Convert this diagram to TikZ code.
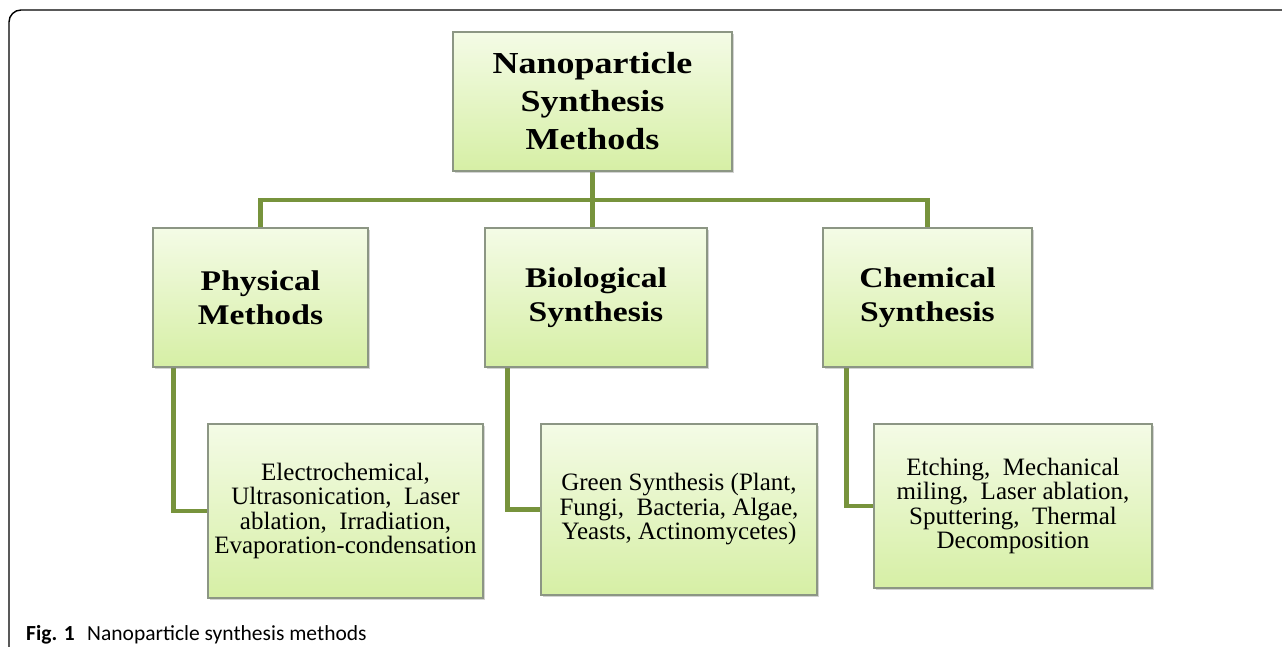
\documentclass[tikz,border=0pt]{standalone}
\usepackage{fontspec}
\setmainfont{Liberation Serif}
\newfontfamily\headfont[FakeStretch=1.18]{Liberation Serif}
\newfontfamily\capfont{Carlito}
\usetikzlibrary{shadows}
\pgfdeclarelayer{background}
\pgfsetlayers{background,main}
\definecolor{olivelink}{RGB}{119,147,60}
\definecolor{boxtop}{RGB}{244,251,230}
\definecolor{boxbot}{RGB}{214,239,165}
\definecolor{boxedge}{RGB}{140,150,132}
\tikzset{
  greenbox/.style={rectangle, draw=boxedge, line width=1.1pt, top color=boxtop, bottom color=boxbot,
    drop shadow={opacity=0.35, shadow xshift=2pt, shadow yshift=-2pt}, align=center, inner sep=0pt},
  headtxt/.style={font=\headfont\bfseries\fontsize{30.5}{38}\selectfont},
  midtxt/.style={font=\headfont\bfseries\fontsize{28.5}{34}\selectfont},
  bodytxt/.style={font=\fontsize{25}{24.5}\selectfont},
  link/.style={draw=olivelink, line width=4.5pt},
  captxt/.style={font=\capfont\fontsize{21.5}{24}\selectfont, anchor=base west, inner sep=0pt},
}
\begin{document}
\begin{tikzpicture}[x=1pt,y=-1pt]
\useasboundingbox (0,0) rectangle (1282,647);
% frame
\draw[line width=1.4pt, rounded corners=12pt] (9,660) -- (9,10) -- (1290,10);
\node[greenbox, headtxt, minimum width=279pt, minimum height=139pt] (top) at (592.5,101.5) {Nanoparticle\\Synthesis\\Methods};
\node[greenbox, midtxt, minimum width=215pt, minimum height=139pt] (phys) at (260.5,297.5) {Physical\\Methods};
\node[greenbox, midtxt, minimum width=222pt, minimum height=139pt] (bio) at (596,297.5) {Biological\\Synthesis};
\node[greenbox, midtxt, minimum width=209pt, minimum height=139pt] (chem) at (927.5,297.5) {Chemical\\Synthesis};
\node[greenbox, bodytxt, minimum width=275pt, minimum height=174pt] (physsub) at (345.5,511) {Electrochemical,\\Ultrasonication,\ \ Laser\\ablation,\ \ Irradiation,\\Evaporation-condensation};
\node[greenbox, bodytxt, minimum width=276pt, minimum height=171pt] (biosub) at (679,509.5) {Green Synthesis\ (Plant,\\Fungi,\ \ Bacteria, Algae,\\Yeasts, Actinomycetes)};
\node[greenbox, bodytxt, minimum width=278pt, minimum height=164pt] (chemsub) at (1013,506) {Etching,\ \ Mechanical\\miling,\ \ Laser ablation,\\Sputtering,\ \ Thermal\\Decomposition};
\coordinate (bar) at (592.5,200);
\begin{pgfonlayer}{background}
\path[link] (top.south) -- (bar);
\path[link] (bar) -| (phys.north);
\path[link] (bar) -| (chem.north);
\path[link] (bar) -- (bio.north -| bar);
\path[link] ([xshift=21pt]phys.south west) |- (physsub.west);
\path[link] ([xshift=23pt]bio.south west) |- (biosub.west);
\path[link] ([xshift=24pt]chem.south west) |- (chemsub.west);
\end{pgfonlayer}
% caption
\node[captxt] (figlbl) at (26,640) {\bfseries Fig. 1};
\node[captxt] (captext) at (87,640) {Nanoparticle synthesis methods};
\end{tikzpicture}
\end{document}
